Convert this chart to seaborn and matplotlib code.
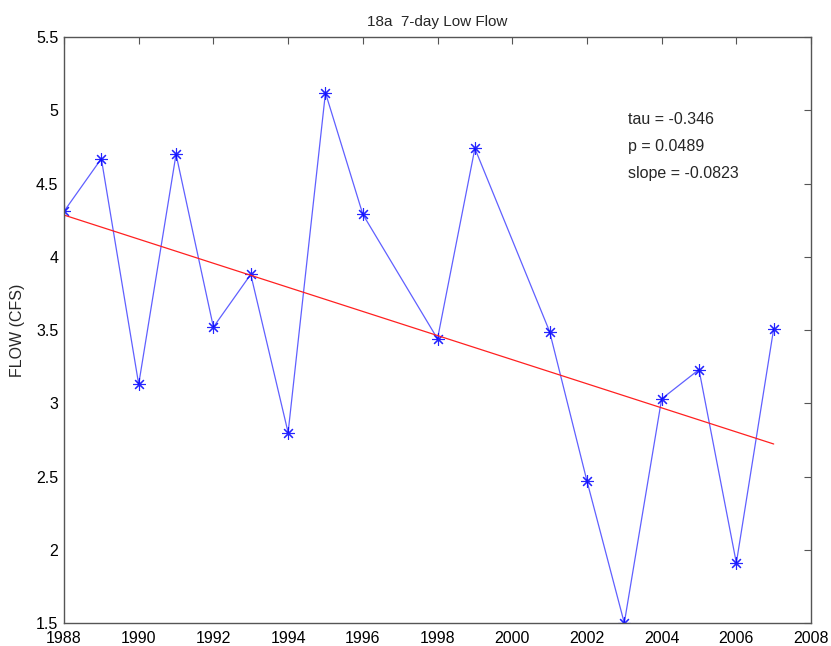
import matplotlib
matplotlib.use("Agg")
import matplotlib.pyplot as plt
import seaborn as sns
import pandas as pd
import numpy as np

years = [1988, 1989, 1990, 1991, 1992, 1993, 1994, 1995, 1996, 1998,
         1999, 2001, 2002, 2003, 2004, 2005, 2006, 2007]
flow = [4.31, 4.67, 3.13, 4.70, 3.52, 3.88, 2.80, 5.12, 4.29, 3.44,
        4.74, 3.49, 2.47, 1.50, 3.03, 3.23, 1.91, 3.51]
trend_years = [1988, 2007]
trend_flow = [4.285, 2.722]
stats_text = ["tau = -0.346", "p = 0.0489", "slope = -0.0823"]
title = "18a  7-day Low Flow"
ylabel = "FLOW (CFS)"
xticks = list(range(1988, 2009, 2))
yticks = [1.5, 2, 2.5, 3, 3.5, 4, 4.5, 5, 5.5]

sns.set_style("white")
plt.rcParams['font.family'] = ['Liberation Sans', 'DejaVu Sans']

fig = plt.figure(figsize=(8.31, 6.46), dpi=100)
ax = fig.add_axes([0.077, 0.0356, 0.899, 0.907])

df = pd.DataFrame({"year": years, "flow": flow})
tdf = pd.DataFrame({"year": trend_years, "flow": trend_flow})

sns.lineplot(data=df, x="year", y="flow", ax=ax, color="#4444ff", lw=0.9,
             marker=(8, 2, 0), markersize=9, markeredgecolor="#0000ff",
             markerfacecolor="#0000ff", markeredgewidth=0.8, alpha=0.85)
sns.lineplot(data=tdf, x="year", y="flow", ax=ax, color="#ff2020", lw=0.9)

ax.set_xlim(1988, 2008)
ax.set_ylim(1.5, 5.5)
ax.set_xticks(xticks)
ax.set_yticks(yticks)
ax.set_yticklabels([f"{v:g}" for v in yticks])
ax.tick_params(direction="in", top=True, right=True, length=5, width=0.8,
               colors="#555555", labelcolor="black", labelsize=11.5)
ax.tick_params(axis="x", pad=6)
ax.tick_params(axis="y", pad=4)
for s in ax.spines.values():
    s.set_visible(True)
    s.set_color("#555555")
    s.set_linewidth(1.0)
ax.set_xlabel("")
ax.set_ylabel(ylabel, fontsize=11.5, labelpad=8)
ax.set_title(title, fontsize=11, pad=8)

for i, t in enumerate(stats_text):
    ax.text(2003.1, 4.94 - i * 0.185, t, fontsize=11.5, va="center", ha="left")

fig.savefig("out.png", dpi=100)
